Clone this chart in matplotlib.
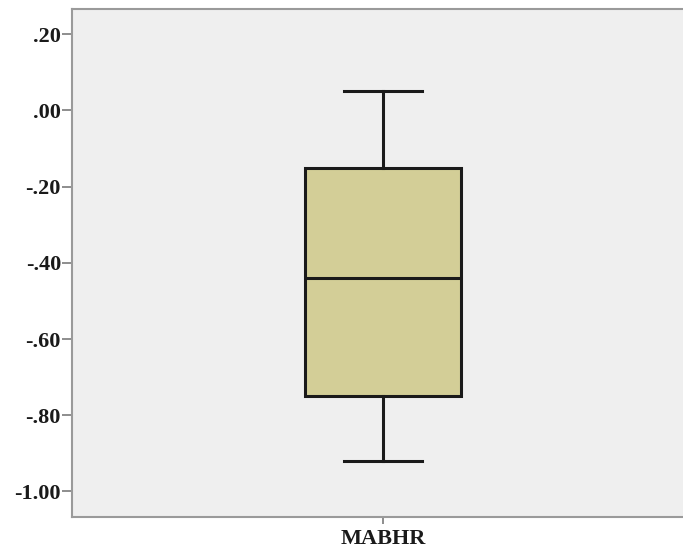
import matplotlib
matplotlib.use("Agg")
import matplotlib.pyplot as plt

# Summary statistics for the MABHR variable
categories = ["MABHR"]
whisker_low = [-0.92]
q1 = [-0.75]
median = [-0.44]
q3 = [-0.15]
whisker_high = [0.05]
yticks = [0.20, 0.00, -0.20, -0.40, -0.60, -0.80, -1.00]
ytick_labels = [".20", ".00", "-.20", "-.40", "-.60", "-.80", "-1.00"]

plt.rcParams["font.family"] = ["Liberation Serif", "DejaVu Serif"]

fig = plt.figure(figsize=(6.83, 5.5), dpi=100)
ax = fig.add_axes([72 / 683, 33 / 550, 611 / 683, 508 / 550])
ax.set_facecolor("#efefef")

stats = []
for i, name in enumerate(categories):
    stats.append(dict(label=name, whislo=whisker_low[i], q1=q1[i], med=median[i],
                      q3=q3[i], whishi=whisker_high[i], fliers=[]))

ax.bxp(stats, positions=[1], widths=0.2508, patch_artist=True, showfliers=False,
       boxprops=dict(facecolor="#d3ce97", edgecolor="#1a1a1a", linewidth=2.2),
       medianprops=dict(color="#1a1a1a", linewidth=2.2),
       whiskerprops=dict(color="#1a1a1a", linewidth=2.2),
       capprops=dict(color="#1a1a1a", linewidth=2.2),
       capwidths=0.1254)

ax.set_xlim(0.5, 0.5 + 611 / 622)
ax.set_ylim(-1.067, 0.266)
ax.set_yticks(yticks)
ax.set_yticklabels(ytick_labels, fontsize=16, fontweight="bold", color="#1a1a1a")
ax.set_xticks([1])
ax.set_xticklabels(categories, fontsize=16, fontweight="bold", color="#1a1a1a")

ax.spines["right"].set_visible(False)
for side in ["left", "top", "bottom"]:
    ax.spines[side].set_color("#9a9a9a")
    ax.spines[side].set_linewidth(1.5)
ax.tick_params(axis="y", direction="out", length=7, width=1.2, color="#7a7a7a", pad=1)
ax.tick_params(axis="x", direction="out", length=5, width=1.2, color="#7a7a7a", pad=4)

fig.savefig("out.png", dpi=100)
